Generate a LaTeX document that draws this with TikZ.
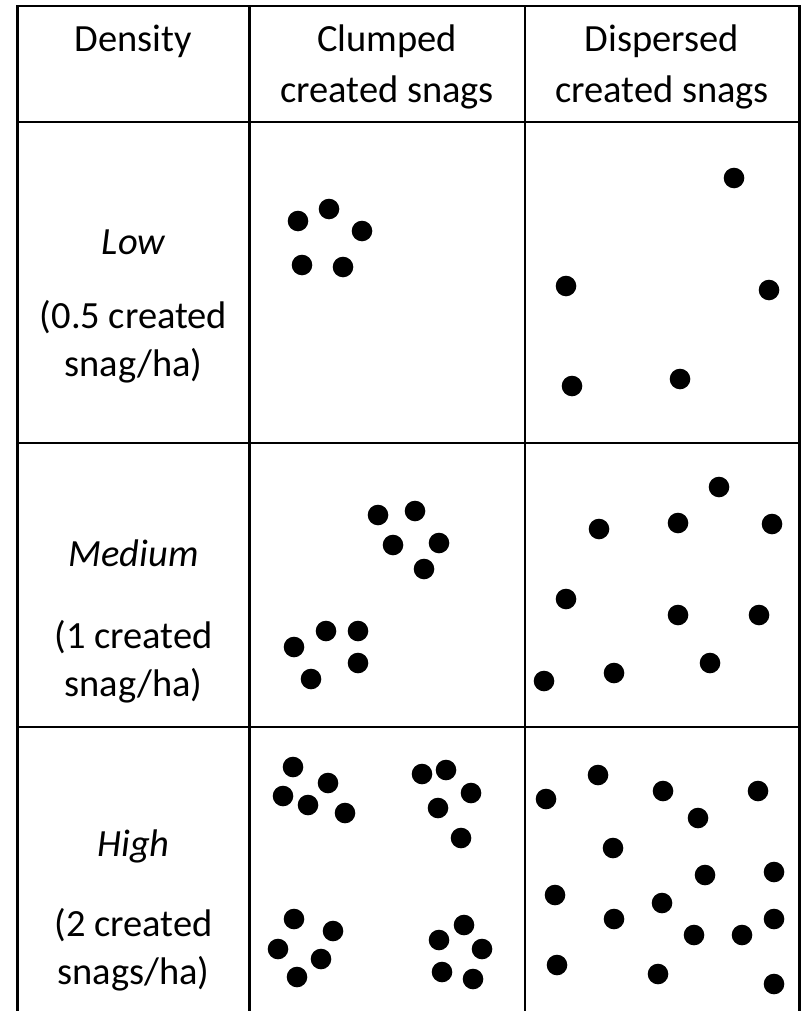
\documentclass[tikz,border=0pt]{standalone}
\usepackage{fontspec}
\setmainfont{Carlito}
\begin{document}
\begin{tikzpicture}[x=0.02cm,y=-0.02cm,
    trait/.style={line width=1.15pt, line cap=rect},
    texte/.style={anchor=base, inner sep=0pt, font=\fontsize{21.9}{28}\selectfont},
    densite/.style={texte, font=\fontsize{21.9}{28}\selectfont\itshape}]

    \def\rayon{0.206cm}
    \useasboundingbox (0,0) rectangle (804,1011);

  % Tableau
  \draw[trait] (17.5,1011) -- (17.5,6) -- (799.5,6) -- (799.5,1011);
  \draw[trait] (249.5,6) -- (249.5,1011);
  \draw[trait] (525,6) -- (525,1011);
  \foreach \y in {122,443,727}
    \draw[trait] (17.5,\y) -- (799.5,\y);

  % En-tete
  \node[texte] (density) at (133.5,51) {Density};
  \node[texte] (clumped) at (387,51) {Clumped};
  \node[texte] (clumpedb) at (387,102) {created snags};
  \node[texte] (dispersed) at (662,51) {Dispersed};
  \node[texte] (dispersedb) at (662,102) {created snags};

  % Densites
  \node[densite] (low) at (133.5,254) {Low};
  \node[texte] (lowa) at (133.5,328) {(0.5 created};
  \node[texte] (lowb) at (133.5,376) {snag/ha)};
  \node[densite] (medium) at (133.5,566) {Medium};
  \node[texte] (mediuma) at (133.5,648) {(1 created};
  \node[texte] (mediumb) at (133.5,696) {snag/ha)};
  \node[densite] (high) at (133.5,856) {High};
  \node[texte] (higha) at (133.5,936) {(2 created};
  \node[texte] (highb) at (133.5,984) {snags/ha)};

  % Chicots groupes
  \foreach \p in {(298,221),(329,209),(362,231),(302,265),(343,267),
      (378,515),(415,511),(393,545),(439,543),(424,569),
      (326,631),(358,631),(294,647),(358,663),(311,679),
      (293,767),(328,783),(283,796),(308,805),(345,813),
      (422,774),(446,770),(471,793),(438,808),(461,838),
      (294,919),(333,931),(278,949),(321,959),(297,977),
      (464,925),(439,940),(482,949),(442,972),(473,979)}
    \fill \p circle (\rayon);

  % Chicots disperses
  \foreach \p in {(734,178),(566,286),(769,290),(572,386),(680,379),
      (719,487),(599,529),(678,523),(772,524),(566,599),
      (678,615),(759,615),(710,663),(614,673),(544,681),
      (598,775),(546,799),(663,791),(758,791),(698,818),(613,848),
      (705,875),(774,872),(555,895),(662,903),(614,919),(694,935),
      (742,935),(774,919),(557,965),(658,974),(774,984)}
    \fill \p circle (\rayon);
\end{tikzpicture}
\end{document}
